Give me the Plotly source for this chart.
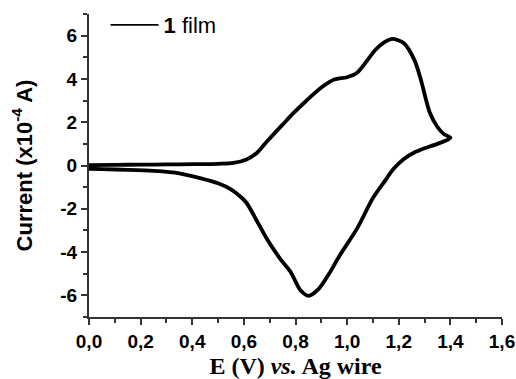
import plotly.graph_objects as go

# Forward scan (0 -> 1.4 V)
e_fwd = [0.0, 0.1, 0.2, 0.3, 0.4, 0.5, 0.56, 0.61, 0.65, 0.69, 0.75, 0.79, 0.84,
         0.9, 0.95, 1.0, 1.04, 1.11, 1.145, 1.175, 1.22, 1.26, 1.285, 1.32, 1.35, 1.375, 1.4]
i_fwd = [0.02, 0.03, 0.04, 0.05, 0.06, 0.08, 0.12, 0.28, 0.58, 1.12, 1.89, 2.4, 2.97,
         3.6, 3.97, 4.08, 4.3, 5.35, 5.7, 5.85, 5.65, 4.89, 4.0, 2.45, 1.78, 1.45, 1.28]
# Reverse scan (1.4 -> 0 V)
e_rev = [1.4, 1.35, 1.3, 1.26, 1.22, 1.18, 1.15, 1.1, 1.04, 0.97, 0.93, 0.89, 0.85,
         0.82, 0.78, 0.74, 0.69, 0.65, 0.61, 0.585, 0.55, 0.5, 0.43, 0.35, 0.25, 0.15, 0.05, 0.0]
i_rev = [1.28, 1.0, 0.8, 0.6, 0.3, -0.15, -0.65, -1.5, -2.88, -4.18, -5.0, -5.7, -6.02,
         -5.78, -4.9, -4.3, -3.41, -2.55, -1.72, -1.42, -1.1, -0.82, -0.58, -0.36, -0.25, -0.2, -0.17, -0.15]

x_ticks = [0.0, 0.2, 0.4, 0.6, 0.8, 1.0, 1.2, 1.4, 1.6]
x_labels = ["0,0", "0,2", "0,4", "0,6", "0,8", "1,0", "1,2", "1,4", "1,6"]
y_ticks = [-6, -4, -2, 0, 2, 4, 6]
y_labels = ["-6", "-4", "-2", "0", "2", "4", "6"]
series_name = "<b>1</b> film"

fig = go.Figure()
fig.add_trace(go.Scatter(
    x=e_fwd + e_rev[1:], y=i_fwd + i_rev[1:],
    mode="lines", name=series_name, showlegend=False,
    line=dict(color="black", width=3.8, shape="spline", smoothing=0.8),
))
# legend entry (thin line sample as in the reference)
fig.add_trace(go.Scatter(
    x=[None], y=[None], mode="lines", name=series_name,
    line=dict(color="black", width=1.8),
))

sans = "Liberation Sans, Arial"
axis_common = dict(showgrid=False, zeroline=False, showline=True, linecolor="#333",
                   linewidth=2, ticks="outside", ticklen=6, tickwidth=2, tickcolor="#333",
                   automargin=False,
                   tickfont=dict(family=sans, size=19, color="black"))
fig.update_layout(
    width=516, height=379,
    margin=dict(l=89, r=14, t=4, b=62),
    paper_bgcolor="white", plot_bgcolor="white",
    showlegend=True,
    font=dict(family=sans, color="black"),
    legend=dict(x=0.04, y=1.0, xanchor="left", yanchor="top",
                bgcolor="rgba(0,0,0,0)", itemwidth=48,
                font=dict(family=sans, size=22, color="black")),
    xaxis=dict(range=[0, 1.6], tickvals=x_ticks,
               ticktext=["<b>%s</b>" % t for t in x_labels],
               minor=dict(dtick=0.1, ticks="outside", ticklen=4, tickwidth=1.5, tickcolor="#333"),
               title=dict(text="<b>E (V) <i>vs.</i> Ag wire</b>",
                          font=dict(family="Liberation Serif, Times New Roman", size=24, color="black"),
                          standoff=14),
               **axis_common),
    yaxis=dict(range=[-7, 7], tickvals=y_ticks, domain=[0, 0.968],
               ticktext=["<b>%s</b>" % t for t in y_labels],
               minor=dict(dtick=1, ticks="outside", ticklen=4, tickwidth=1.5, tickcolor="#333"),
               title=dict(text="<b>Current (x10<sup>-4</sup> A)</b>",
                          font=dict(family=sans, size=22, color="black"),
                          standoff=22),
               **axis_common),
)
fig.write_html("out.html")
